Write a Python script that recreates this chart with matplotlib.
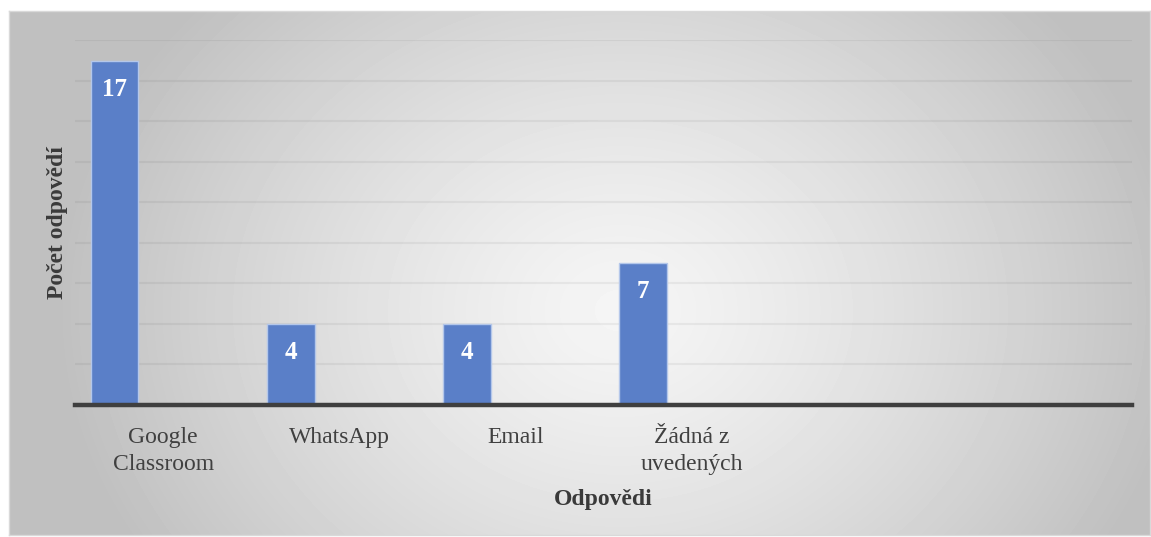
import numpy as np
import matplotlib.pyplot as plt

# data
categories = ['Google\nClassroom', 'WhatsApp', 'Email', 'Žádná z\nuvedených']
counts = [17, 4, 4, 7]
n_slots = 6

plt.rcParams['font.family'] = ['Liberation Serif', 'DejaVu Serif']

W, H = 1151, 537
fig = plt.figure(figsize=(W / 100, H / 100), dpi=100)
fig.patch.set_facecolor('white')

#__________________________________________________________
# chart area background with a radial grey gradient
fx0, fx1, fy0, fy1 = 9, 1150, 11, 535
bg = fig.add_axes([fx0 / W, 1 - fy1 / H, (fx1 - fx0) / W, (fy1 - fy0) / H])
xx, yy = np.meshgrid(np.arange(fx0, fx1), np.arange(fy0, fy1))
r = np.sqrt(((xx - 620) / 560.) ** 2 + ((yy - 310) / 460.) ** 2)
shade = 245 - 53 * np.clip(r, 0, 1) ** 1.3
bg.imshow(shade, cmap='gray', vmin=0, vmax=255, aspect='auto', interpolation='bilinear')
bg.set_xticks([])
bg.set_yticks([])
for s in bg.spines.values():
    s.set_color('#d9d9d9')
    s.set_linewidth(1)

#__________________________________________________________
# main axes
ax0, ax1, ay_base, ay_top = 75, 1132, 405, 40.4
ax = fig.add_axes([ax0 / W, 1 - ay_base / H, (ax1 - ax0) / W, (ay_base - ay_top) / H])
ax.patch.set_alpha(0)
ax.set_xlim(-0.5, n_slots - 0.5)
ax.set_ylim(0, 18)

x = np.arange(len(categories))
bars = ax.bar(x - 0.275, counts, width=0.27, color='#5A7FC8', edgecolor='#b4c7ea',
              linewidth=1, zorder=3)
for b, v in zip(bars, counts):
    ax.annotate(str(v), (b.get_x() + b.get_width() / 2, v), xytext=(0, -20.5),
                textcoords='offset points', ha='center', va='center',
                color='white', fontsize=18, fontweight='bold', zorder=4)

ax.set_yticks(np.arange(2, 19, 2))
ax.yaxis.grid(True, color='black', alpha=0.05, linewidth=1.6, zorder=1)
ax.tick_params(axis='y', length=0, labelleft=False)
ax.set_xticks(x)
ax.set_xticklabels(categories, fontsize=17, color='#404040', linespacing=1.38)
ax.tick_params(axis='x', length=0, pad=16)

for s in ['top', 'right', 'left']:
    ax.spines[s].set_visible(False)
ax.spines['bottom'].set_color('#3f3f3f')
ax.spines['bottom'].set_linewidth(3.2)
ax.spines['bottom'].set_zorder(5)

ax.set_xlabel('Odpovědi', fontsize=17, fontweight='bold', color='#3a3a3a', va='center')
ax.xaxis.set_label_coords(0.5, -0.258)
ax.set_ylabel('Počet odpovědí', fontsize=17, fontweight='bold', color='#3a3a3a', va='center')
ax.yaxis.set_label_coords(-0.017, 0.5)

plt.savefig('out.png', dpi=100)
plt.close()
